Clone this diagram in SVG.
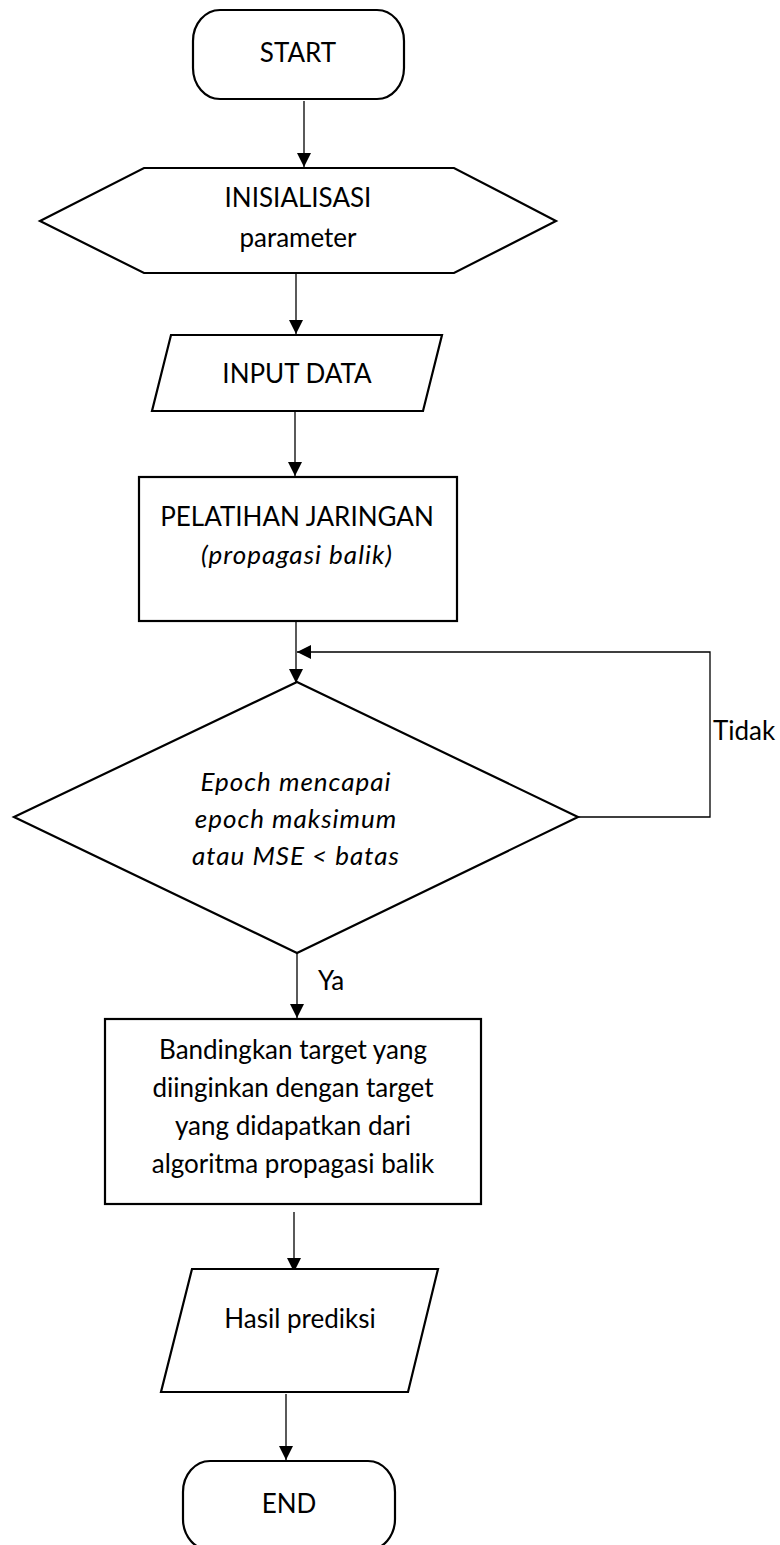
<svg xmlns="http://www.w3.org/2000/svg" width="780" height="1545" viewBox="0 0 780 1545">
<style>
.s{fill:#fff;stroke:#000;stroke-width:2.2;stroke-linejoin:miter}
.c{fill:none;stroke:#000;stroke-width:1.3}
.t{font-family:Lato,"Liberation Sans",sans-serif;font-size:26px;fill:#000;text-anchor:middle}
.i{font-style:italic;letter-spacing:1px}
.l{text-anchor:start}
</style>
<defs>
<marker id="ah" markerUnits="userSpaceOnUse" markerWidth="14" markerHeight="14" refX="14" refY="7" orient="auto" viewBox="0 0 14 14">
<path d="M0,0 L14,7 L0,14 z" fill="#000"/>
</marker>
</defs>
<rect width="780" height="1545" fill="#fff"/>
<g id="connectors">
<line class="c" x1="304" y1="101" x2="304" y2="167" marker-end="url(#ah)"/>
<line class="c" x1="296" y1="273" x2="296" y2="334" marker-end="url(#ah)"/>
<line class="c" x1="295" y1="411" x2="295" y2="476" marker-end="url(#ah)"/>
<line class="c" x1="296" y1="621" x2="296" y2="683" marker-end="url(#ah)"/>
<polyline class="c" points="578,817 710,817 710,652 297,652" marker-end="url(#ah)"/>
<line class="c" x1="297" y1="953" x2="297" y2="1018" marker-end="url(#ah)"/>
<line class="c" x1="294" y1="1212" x2="294" y2="1272" marker-end="url(#ah)"/>
<line class="c" x1="286" y1="1394" x2="286" y2="1460" marker-end="url(#ah)"/>
<text class="t l" x="713" y="740">Tidak</text>
<text class="t l" x="318" y="990">Ya</text>
</g>
<g id="start">
<rect class="s" x="193" y="10" width="211" height="89" rx="27" ry="31"/>
<text class="t" x="298" y="62">START</text>
</g>
<g id="init">
<polygon class="s" points="40,221 144,168 454,168 556,221 454,273 144,273"/>
<text class="t" x="298" y="207">INISIALISASI</text>
<text class="t" x="298" y="247">parameter</text>
</g>
<g id="input">
<polygon class="s" points="171,335 442,335 423,411 152,411"/>
<text class="t" x="297" y="383">INPUT DATA</text>
</g>
<g id="train">
<rect class="s" x="139" y="477" width="318" height="144"/>
<text class="t" x="297" y="526">PELATIHAN JARINGAN</text>
<text class="t i" x="297" y="564">(propagasi balik)</text>
</g>
<g id="decision">
<polygon class="s" points="297,682 578,817 297,953 14,817"/>
<text class="t i" x="296" y="791">Epoch mencapai</text>
<text class="t i" x="296" y="828">epoch maksimum</text>
<text class="t i" x="296" y="865">atau MSE &lt; batas</text>
</g>
<g id="compare">
<rect class="s" x="105" y="1019" width="376" height="185"/>
<text class="t" x="293" y="1059">Bandingkan target yang</text>
<text class="t" x="293" y="1097">diinginkan dengan target</text>
<text class="t" x="293" y="1135">yang didapatkan dari</text>
<text class="t" x="293" y="1173">algoritma propagasi balik</text>
</g>
<g id="output">
<polygon class="s" points="192,1269 438,1269 408,1392 161,1392"/>
<text class="t" x="300" y="1328">Hasil prediksi</text>
</g>
<g id="end">
<rect class="s" x="183" y="1461" width="212" height="89" rx="27" ry="31"/>
<text class="t" x="289" y="1513">END</text>
</g>
</svg>
